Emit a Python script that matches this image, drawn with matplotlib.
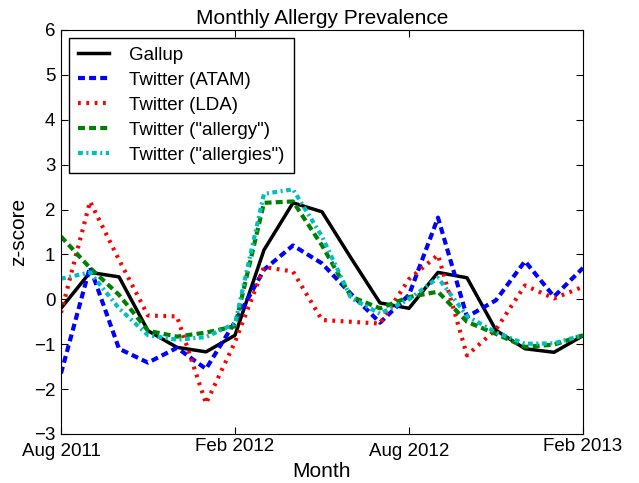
import matplotlib
matplotlib.use("Agg")
import matplotlib.pyplot as plt
import matplotlib.transforms as mtransforms
import numpy as np

plt.rcParams['font.family'] = ['Liberation Sans', 'DejaVu Sans']
plt.rcParams['lines.scale_dashes'] = False

months = ['Aug 2011', 'Sep 2011', 'Oct 2011', 'Nov 2011', 'Dec 2011', 'Jan 2012',
          'Feb 2012', 'Mar 2012', 'Apr 2012', 'May 2012', 'Jun 2012', 'Jul 2012',
          'Aug 2012', 'Sep 2012', 'Oct 2012', 'Nov 2012', 'Dec 2012', 'Jan 2013',
          'Feb 2013']
tick_labels = ['Aug 2011', 'Feb 2012', 'Aug 2012', 'Feb 2013']

gallup = [-0.2, 0.6, 0.5, -0.7, -1.07, -1.17, -0.8, 1.1, 2.15, 1.95, 0.92, -0.08,
          -0.2, 0.6, 0.48, -0.69, -1.1, -1.18, -0.81]
atam = [-1.65, 0.72, -1.1, -1.41, -1.08, -1.55, -0.5, 0.66, 1.2, 0.8, 0.12, -0.52,
        0.1, 1.82, -0.39, -0.02, 0.85, 0.06, 0.7]
lda = [-0.3, 2.18, 0.88, -0.36, -0.38, -2.32, -0.95, 0.72, 0.62, -0.46, -0.5, -0.54,
       0.45, 0.99, -1.25, -0.67, 0.31, 0.02, 0.28]
allergy = [1.4, 0.7, 0.1, -0.7, -0.83, -0.74, -0.6, 2.15, 2.18, 1.2, 0.06, -0.2,
           0.05, 0.17, -0.5, -0.77, -1.06, -1.01, -0.8]
allergies = [0.46, 0.6, -0.2, -0.8, -0.9, -0.84, -0.54, 2.35, 2.45, 1.4, 0.03, -0.32,
             0.0, 0.48, -0.37, -0.74, -0.99, -0.98, -0.8]

x = np.arange(len(months))

fig = plt.figure(figsize=(6.39, 4.83), dpi=100)
ax = fig.add_axes([61/639, 49/483, 522/639, 404/483])

ax.plot(x, gallup, color='black', lw=2.5, ls='-', label='Gallup')
ax.plot(x, atam, color='blue', lw=3, ls='--', dashes=(5, 3), label='Twitter (ATAM)')
ax.plot(x, lda, color='red', lw=3, ls=':', dashes=(2, 4), label='Twitter (LDA)')
ax.plot(x, allergy, color='green', lw=3, ls='--', dashes=(5, 3), label='Twitter ("allergy")')
ax.plot(x, allergies, color='c', lw=3, ls='-.', dashes=(3.5, 2.5, 1.5, 2.5),
        label='Twitter ("allergies")')

ax.set_xlim(0, len(months) - 1)
ax.set_ylim(-3, 6)
ax.set_xticks([months.index(t) for t in tick_labels])
ax.set_xticklabels(tick_labels)
ax.set_yticks(np.arange(-3, 7, 1))
ax.tick_params(direction='in', top=True, right=True, labelsize=13.5, length=5, pad=3)
ax.tick_params(axis='y', pad=4)
for lab in ax.get_xticklabels():
    if lab.get_text().startswith('Aug'):
        lab.set_transform(lab.get_transform() + mtransforms.ScaledTranslation(0, -5/100, fig.dpi_scale_trans))

ax.set_title('Monthly Allergy Prevalence', fontsize=15, pad=4)
ax.set_xlabel('Month', fontsize=15, labelpad=1)
ax.set_ylabel('z-score', fontsize=15, labelpad=4)

leg = ax.legend(loc='upper left', fontsize=13.5, fancybox=False, framealpha=1,
                edgecolor='black', handlelength=1.65, handletextpad=1.1,
                borderpad=0.5, labelspacing=0.42, borderaxespad=0.4)
leg.get_frame().set_linewidth(1.0)

fig.savefig('out.png', dpi=100)
